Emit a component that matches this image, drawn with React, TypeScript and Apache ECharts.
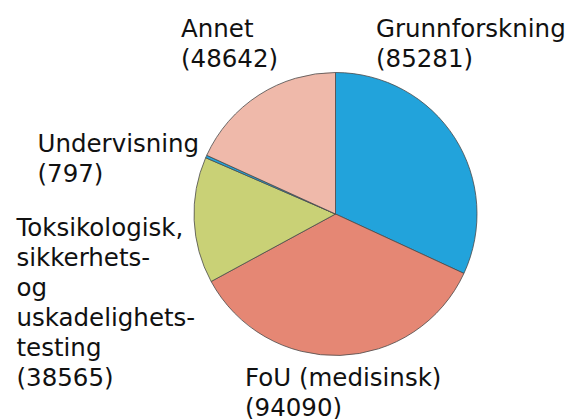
import React, { useEffect, useRef } from "react";
import * as echarts from "echarts";

const categories = [
  "Grunnforskning",
  "FoU (medisinsk)",
  "Toksikologisk,\nsikkerhets-\nog\nuskadelighets-\ntesting",
  "Undervisning",
  "Annet",
];
const values = [85281, 94090, 38565, 797, 48642];
const colors = ["#22a3db", "#e58774", "#c9d176", "#22a3db", "#efb9aa"];
// label top-left anchor positions (px)
const labelPos: [number, number][] = [
  [376, 13],
  [245, 362],
  [16.5, 212],
  [37.5, 128],
  [181, 13],
];

export default function App() {
  const ref = useRef<HTMLDivElement>(null);
  useEffect(() => {
    document.body.style.margin = "0";
    const chart = echarts.init(ref.current!, undefined, { renderer: "svg" });
    chart.setOption({
      animation: false,
      backgroundColor: "#ffffff",
      series: [
        {
          type: "pie",
          center: [335.5, 214],
          radius: [0, 141.5],
          startAngle: 90,
          clockwise: true,
          avoidLabelOverlap: false,
          data: categories.map((name, i) => ({
            name,
            value: values[i],
            itemStyle: { color: colors[i] },
          })),
          itemStyle: { borderColor: "#4a4a4a", borderWidth: 0.8 },
          emphasis: { disabled: true },
          label: {
            show: true,
            position: "outside",
            formatter: "{b}\n({c})",
            fontFamily: "DejaVu Sans",
            fontSize: 24.5,
            lineHeight: 30,
            color: "#111111",
          },
          labelLine: { show: false },
          labelLayout: (p: any) => ({
            x: labelPos[p.dataIndex][0],
            y: labelPos[p.dataIndex][1],
            align: "left",
            verticalAlign: "top",
            hideOverlap: false,
          }),
        },
      ],
    });
    return () => chart.dispose();
  }, []);
  return <div ref={ref} style={{ width: 568, height: 419 }} />;
}
